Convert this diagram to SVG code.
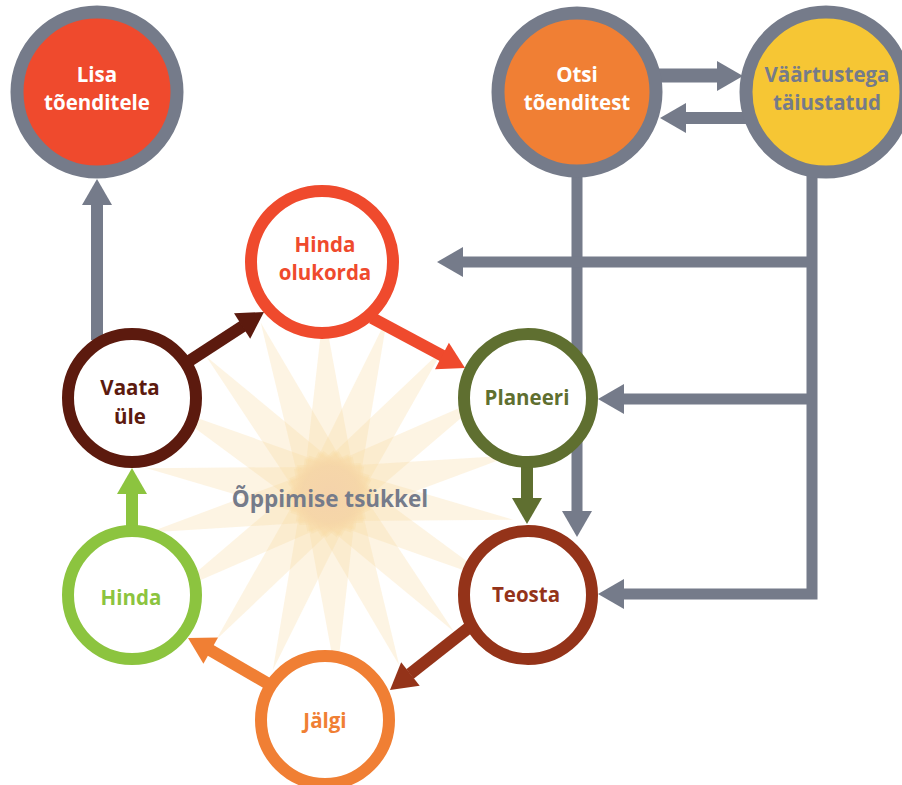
<svg xmlns="http://www.w3.org/2000/svg" xmlns:xlink="http://www.w3.org/1999/xlink" width="902" height="785" viewBox="0 0 902 785">
<style>
  text { font-family: "Open Sans", "Liberation Sans", sans-serif; font-weight: bold; text-anchor: middle; }
  .lbl { font-size: 20.5px; }
  .ring { fill: none; stroke: #757b8a; stroke-width: 13; }
  .cyc { fill: #ffffff; stroke-width: 12; }
  .gray { stroke: #757b8a; stroke-width: 11; fill: none; }
  .ray { fill: #f8daa2; fill-opacity: 0.3; }
</style>
<defs>
  <path id="head" d="M0,0 L-26,-15 L-26,15 Z"/>
  <path id="ray" d="M185,0 L-30,-32 L-30,32 Z"/>
  <radialGradient id="core">
    <stop offset="0" stop-color="#f3d0ad" stop-opacity="0.75"/>
    <stop offset="0.7" stop-color="#f3d2ae" stop-opacity="0.55"/>
    <stop offset="1" stop-color="#f5d8b8" stop-opacity="0"/>
  </radialGradient>
</defs>

<g id="star" transform="translate(330,494)">
  <use href="#ray" class="ray" transform="rotate(8)"/>
  <use href="#ray" class="ray" transform="rotate(28)"/>
  <use href="#ray" class="ray" transform="rotate(48)"/>
  <use href="#ray" class="ray" transform="rotate(68)"/>
  <use href="#ray" class="ray" transform="rotate(88)"/>
  <use href="#ray" class="ray" transform="rotate(108)"/>
  <use href="#ray" class="ray" transform="rotate(128)"/>
  <use href="#ray" class="ray" transform="rotate(148)"/>
  <use href="#ray" class="ray" transform="rotate(168)"/>
  <use href="#ray" class="ray" transform="rotate(188)"/>
  <use href="#ray" class="ray" transform="rotate(208)"/>
  <use href="#ray" class="ray" transform="rotate(228)"/>
  <use href="#ray" class="ray" transform="rotate(248)"/>
  <use href="#ray" class="ray" transform="rotate(268)"/>
  <use href="#ray" class="ray" transform="rotate(288)"/>
  <use href="#ray" class="ray" transform="rotate(308)"/>
  <use href="#ray" class="ray" transform="rotate(328)"/>
  <use href="#ray" class="ray" transform="rotate(348)"/>
  <circle r="40" fill="url(#core)"/>
</g>

<g id="connectors">
  <path class="gray" d="M577,170 V513"/>
  <use href="#head" fill="#757b8a" transform="translate(577,537) rotate(90)"/>
  <path class="gray" d="M812,170 V599.5 M812,262 H462 M812,399 H623 M817.5,594 H623"/>
  <use href="#head" fill="#757b8a" transform="translate(437,262) rotate(180)"/>
  <use href="#head" fill="#757b8a" transform="translate(598,399) rotate(180)"/>
  <use href="#head" fill="#757b8a" transform="translate(598,594) rotate(180)"/>
  <path d="M655,75.5 H718" stroke="#757b8a" stroke-width="14"/>
  <use href="#head" fill="#757b8a" transform="translate(743,76) rotate(0)"/>
  <path d="M750,118 H686" stroke="#757b8a" stroke-width="12"/>
  <use href="#head" fill="#757b8a" transform="translate(660,118) rotate(180)"/>
  <path d="M97,340 V204" stroke="#757b8a" stroke-width="12"/>
  <use href="#head" fill="#757b8a" transform="translate(97,179) rotate(-90)"/>
  <path d="M180,367 L243,326" stroke="#5c1a0e" stroke-width="12"/>
  <use href="#head" fill="#5c1a0e" transform="translate(264,312) rotate(-32.6)"/>
  <path d="M372,318 L443,356" stroke="#ef4a2d" stroke-width="12"/>
  <use href="#head" fill="#ef4a2d" transform="translate(465,368) rotate(27.6)"/>
  <path d="M527,460 V499" stroke="#5f6f30" stroke-width="12"/>
  <use href="#head" fill="#5f6f30" transform="translate(527,524) rotate(90)"/>
  <path d="M476,622 L410,674" stroke="#943319" stroke-width="12"/>
  <use href="#head" fill="#943319" transform="translate(390,690) rotate(141.8)"/>
  <path d="M272,686 L210,650" stroke="#f07f34" stroke-width="12"/>
  <use href="#head" fill="#f07f34" transform="translate(188,638) rotate(209.1)"/>
  <path d="M132,530 V493" stroke="#8cc43f" stroke-width="12"/>
  <use href="#head" fill="#8cc43f" transform="translate(132,468) rotate(-90)"/>
</g>

<g id="lisa">
  <circle cx="97" cy="92" r="80" fill="#ef4a2d"/>
  <circle cx="97" cy="92" r="80" class="ring"/>
  <text class="lbl" x="97" y="82" fill="#ffffff">Lisa</text>
  <text class="lbl" x="97" y="110" fill="#ffffff">tõenditele</text>
</g>
<g id="otsi">
  <circle cx="577" cy="92" r="79" fill="#f07f34"/>
  <circle cx="577" cy="92" r="79" class="ring"/>
  <text class="lbl" x="577" y="82" fill="#ffffff">Otsi</text>
  <text class="lbl" x="577" y="110" fill="#ffffff">tõenditest</text>
</g>
<g id="vaartustega">
  <circle cx="826" cy="92" r="80" fill="#f6c634"/>
  <circle cx="826" cy="92" r="80" class="ring"/>
  <text class="lbl" x="827" y="82" fill="#757b8a">Väärtustega</text>
  <text class="lbl" x="827" y="110" fill="#757b8a">täiustatud</text>
</g>

<g id="hinda-olukorda">
  <circle cx="322" cy="262" r="71" class="cyc" stroke="#ef4a2d"/>
  <text class="lbl" x="325" y="252" fill="#ef4a2d">Hinda</text>
  <text class="lbl" x="325" y="280" fill="#ef4a2d">olukorda</text>
</g>
<g id="planeeri">
  <circle cx="528" cy="398" r="64" class="cyc" stroke="#5f6f30"/>
  <text class="lbl" x="527" y="405" fill="#5f6f30">Planeeri</text>
</g>
<g id="teosta">
  <circle cx="528" cy="595" r="64" class="cyc" stroke="#943319"/>
  <text class="lbl" x="526" y="602" fill="#943319">Teosta</text>
</g>
<g id="jalgi">
  <circle cx="325" cy="720" r="64" class="cyc" stroke="#f07f34"/>
  <text class="lbl" x="325" y="728" fill="#f07f34">Jälgi</text>
</g>
<g id="hinda">
  <circle cx="132" cy="595" r="64" class="cyc" stroke="#8cc43f"/>
  <text class="lbl" x="131" y="605" fill="#8cc43f">Hinda</text>
</g>
<g id="vaata-ule">
  <circle cx="132" cy="398" r="64" class="cyc" stroke="#5c1a0e"/>
  <text class="lbl" x="130" y="395" fill="#5c1a0e">Vaata</text>
  <text class="lbl" x="130" y="424" fill="#5c1a0e">üle</text>
</g>

<text id="center-label" x="330" y="507" font-size="22.5" fill="#757b8a">Õppimise tsükkel</text>
</svg>
